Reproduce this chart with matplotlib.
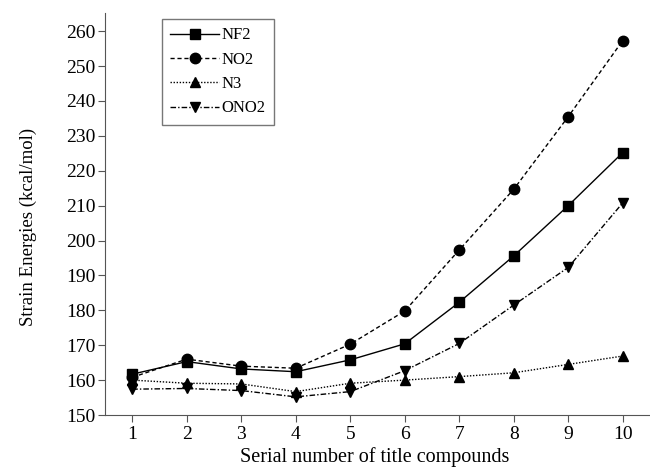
import matplotlib
matplotlib.use("Agg")
from matplotlib import pyplot as plt

compounds = list(range(1, 11))
nf2 = [161.7, 165.3, 163.2, 162.4, 165.8, 170.4, 182.3, 195.6, 210.0, 225.2]
no2 = [160.8, 166.0, 164.0, 163.4, 170.3, 179.8, 197.3, 214.7, 235.5, 257.3]
n3 = [160.0, 159.1, 158.9, 156.7, 159.1, 160.0, 161.0, 162.1, 164.5, 166.9]
ono2 = [157.4, 157.6, 157.0, 155.2, 156.7, 162.7, 170.5, 181.5, 192.3, 210.8]

series = [
    ('NF2', nf2, '-', 's'),
    ('NO2', no2, (0, (3, 2)), 'o'),
    ('N3', n3, (0, (1, 1.2)), '^'),
    ('ONO2', ono2, (0, (4, 1.5, 1, 1.5)), 'v'),
]

plt.rcParams['font.family'] = ['Liberation Serif', 'DejaVu Serif']

fig = plt.figure(figsize=(6.5, 4.7), dpi=100)
ax = fig.add_axes([105 / 650, 55 / 470, 545 / 650, 402 / 470])

for name, values, style, marker in series:
    ax.plot(compounds, values, linestyle=style, marker=marker, color='black',
            linewidth=1.0, markersize=7.5, label=name)

ax.set_xlim(0.5, 10.5)
ax.set_ylim(150, 265.2)
ax.set_xticks(compounds)
ax.set_yticks(range(150, 261, 10))
ax.spines['top'].set_visible(False)
ax.spines['right'].set_visible(False)
ax.spines['left'].set_color('#555555')
ax.spines['bottom'].set_color('#555555')
ax.tick_params(direction='out', length=5, labelsize=14, color='#555555')
ax.tick_params(axis='x', pad=3)
ax.tick_params(axis='y', pad=2)
ax.set_xlabel('Serial number of title compounds', fontsize=14.5)
ax.set_ylabel('Strain Energies (kcal/mol)', fontsize=13.5)
ax.xaxis.set_label_coords(0.495, -0.079)
ax.yaxis.set_label_coords(-0.125, 0.468)

leg = ax.legend(loc='upper left', bbox_to_anchor=(0.1046, 0.985), numpoints=1,
                handlelength=2.9, fontsize=12, frameon=True, fancybox=False,
                edgecolor='#555555', borderpad=0.5, labelspacing=0.5,
                handletextpad=0.15, borderaxespad=0)
leg.get_frame().set_linewidth(1.0)

fig.savefig('out.png', dpi=100)
